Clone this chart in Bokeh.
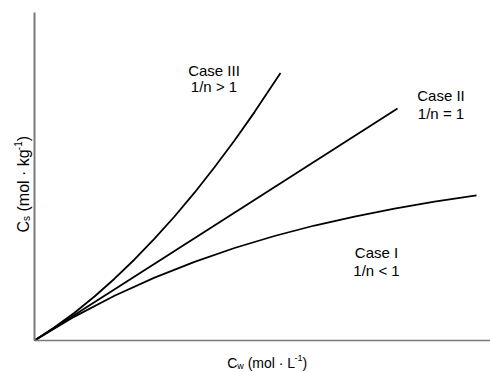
import math
from bokeh.plotting import figure
from bokeh.models import Range1d, Label, FixedTicker
from bokeh.embed import file_html
from bokeh.resources import INLINE

# ---- data (arbitrary concentration units) ----
case1_x = [0, 0.877, 1.754, 2.632, 3.509, 4.386, 5.263, 6.140, 7.018, 7.895, 8.772, 9.693]
case1_y = [0, 0.729, 1.363, 1.918, 2.399, 2.820, 3.186, 3.506, 3.780, 4.021, 4.235, 4.424]

case2_x = [0, 7.961]
case2_y = [0, 7.073]

case3_x = [0, 0.439, 0.877, 1.316, 1.754, 2.193, 2.632, 3.070, 3.509, 3.947, 4.386, 4.825, 5.395]
case3_y = [0, 0.402, 0.848, 1.341, 1.884, 2.470, 3.104, 3.780, 4.506, 5.280, 6.098, 6.963, 8.155]

case_names = ["Case I", "Case II", "Case III"]
case_rules = ["1/n < 1", "1/n = 1", "1/n > 1"]

x_label_parts = ["C", "w", "(mol · L", "-1", ")"]
y_label_parts = ["C", "s", "(mol · kg", "-1", ")"]

# ---- layout helpers ----
W, H = 490, 372
PX_X, PX_Y = 45.6, 32.8         # pixels per data unit
ORIGIN_X, ORIGIN_Y = 34, 340    # page pixel of data origin
TEXT_DY = -5                    # correction for the text baseline placement

def dx(page_x):
    return (page_x - ORIGIN_X) / PX_X

def dy(page_y):
    return (ORIGIN_Y - page_y) / PX_Y

p = figure(width=W, height=H, output_backend="svg", toolbar_location=None,
           x_range=Range1d(dx(0), dx(W)), y_range=Range1d(dy(H), dy(0)),
           x_axis_location="above", y_axis_location="right",
           min_border=0)
p.outline_line_color = None
p.grid.visible = False
p.background_fill_color = "white"
p.border_fill_color = "white"

for ax in (p.xaxis[0], p.yaxis[0]):
    ax.ticker = FixedTicker(ticks=[])
    ax.major_tick_out = 0
    ax.major_tick_in = 0
    ax.minor_tick_out = 0
    ax.minor_tick_in = 0
    ax.major_label_text_font_size = "0px"
    ax.major_label_standoff = 0
    ax.axis_label_standoff = 0
    ax.axis_line_color = "#7a7a7a"
    ax.fixed_location = 0
p.yaxis[0].axis_line_width = 2
p.xaxis[0].axis_line_width = 1.5
p.xaxis[0].bounds = (0, dx(W))
p.yaxis[0].bounds = (0, dy(12))

lw = 1.8
p.line(case1_x, case1_y, line_color="black", line_width=lw)
p.line(case2_x, case2_y, line_color="black", line_width=lw)
p.line(case3_x, case3_y, line_color="black", line_width=lw)

FONT = "Liberation Sans"

def add_text(txt, px, py, size, align="center"):
    p.add_layout(Label(x=dx(px), y=dy(py + TEXT_DY), text=txt, text_font=FONT,
                       text_font_size=f"{size}px", text_color="black",
                       text_align=align, text_baseline="alphabetic"))

# case labels: (center x, baseline line1, baseline line2) in page px
case_pos = [(376, 257, 275), (440.5, 100, 118), (213.5, 75, 91)]
for name, rule, (cx, b1, b2) in zip(case_names, case_rules, case_pos):
    add_text(name, cx, b1, 15)
    add_text(rule, cx, b2, 15)

# x axis label, composed of pieces
xb = 367.5
x_sizes = [14, 9, 14, 9, 14]
x_shift = [0, 2.5, 0, -5, 0]
x_starts = [226.7, 236.8, 247.2, 293.9, 301.9]
for t, s, sh, x0 in zip(x_label_parts, x_sizes, x_shift, x_starts):
    add_text(t, x0, xb + sh, s, align="left")

# y axis label, rotated, composed of pieces
yb = 28.3 + TEXT_DY
y_sizes = [16, 10, 16, 10, 16]
y_shift = [0, 2.5, 0, -6, 0]
y_starts = [232, 220.45, 211.0, 149.65, 140.75]
for t, s, sh, y0 in zip(y_label_parts, y_sizes, y_shift, y_starts):
    p.add_layout(Label(x=dx(yb + sh), y=dy(y0), text=t, text_font=FONT,
                       text_font_size=f"{s}px", text_color="black",
                       text_align="left", text_baseline="alphabetic",
                       angle=math.pi / 2))

open("out.html", "w").write(file_html(p, INLINE))
